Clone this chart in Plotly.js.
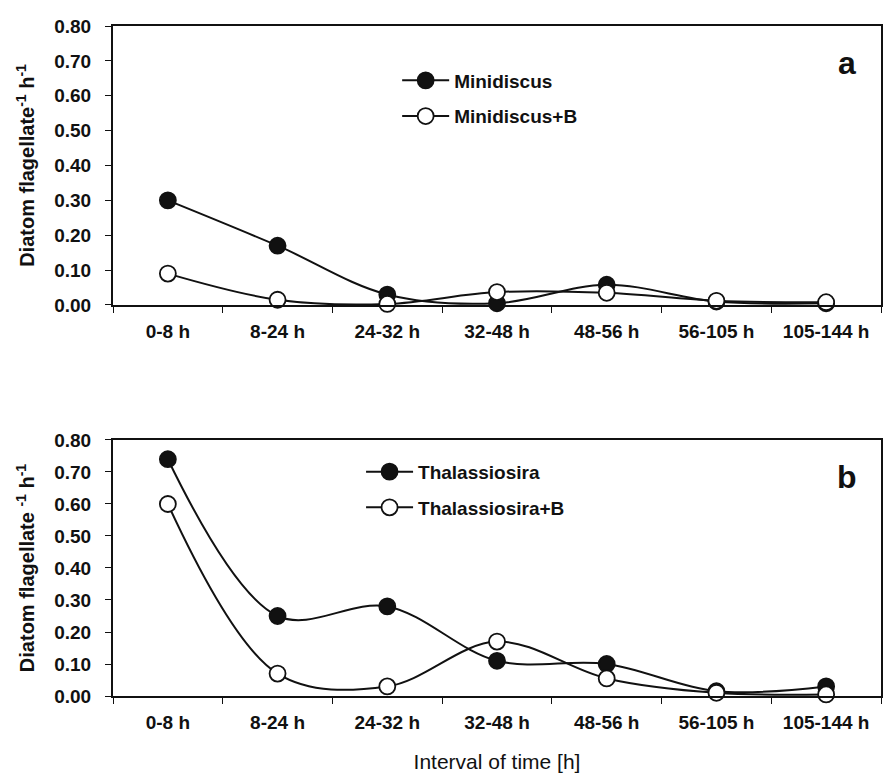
<!DOCTYPE html>
<html>
<head>
<meta charset="utf-8">
<script src="https://cdn.plot.ly/plotly-3.0.1.min.js"></script>
<style>
  html, body { margin: 0; padding: 0; background: #fff; }
  #chart { width: 883px; height: 776px; }
</style>
</head>
<body>
<div id="chart"></div>
<script>
// Categories (time intervals)
const intervals = ["0-8 h", "8-24 h", "24-32 h", "32-48 h", "48-56 h", "56-105 h", "105-144 h"];

// Panel a
const minidiscus  = [0.30, 0.17, 0.03, 0.005, 0.058, 0.01, 0.005];
const minidiscusB = [0.09, 0.015, 0.003, 0.037, 0.035, 0.012, 0.008];

// Panel b
const thalassiosira  = [0.74, 0.25, 0.28, 0.11, 0.10, 0.015, 0.03];
const thalassiosiraB = [0.60, 0.07, 0.03, 0.17, 0.055, 0.01, 0.005];

const yTicks = [0, 0.1, 0.2, 0.3, 0.4, 0.5, 0.6, 0.7, 0.8];

const FONT = "Liberation Sans, Arial, sans-serif";
const INK = "#111";

function series(name, y, filled, xa, ya, legend) {
  return {
    type: "scatter", mode: "lines+markers", name: name,
    x: intervals, y: y, xaxis: xa, yaxis: ya, legend: legend,
    legendgroup: name,
    cliponaxis: false,
    line: { color: INK, width: 2, shape: "spline", smoothing: 1 },
    marker: { size: 16, symbol: "circle", color: filled ? INK : "#fff",
              line: { color: INK, width: 1.8 } }
  };
}

const data = [
  series("<b>Minidiscus</b>", minidiscus, true, "x", "y", "legend"),
  series("<b>Minidiscus+B</b>", minidiscusB, false, "x", "y", "legend"),
  series("<b>Thalassiosira</b>", thalassiosira, true, "x2", "y2", "legend2"),
  series("<b>Thalassiosira+B</b>", thalassiosiraB, false, "x2", "y2", "legend2")
];

function xAxis(anchor, withTitle) {
  const ax = {
    anchor: anchor, type: "category", range: [-0.5, 6.5],
    showgrid: false, zeroline: false,
    showline: true, linecolor: INK, linewidth: 2, mirror: true,
    ticks: "outside", ticklen: 6, tickwidth: 1, tickcolor: INK,
    tickson: "boundaries", ticklabelstandoff: 8,
    tickfont: { family: FONT, size: 19, color: INK, weight: "bold" }
  };
  if (withTitle) ax.title = { text: "Interval of time [h]", standoff: 23,
                              font: { family: FONT, size: 21, color: INK } };
  return ax;
}
function yAxis(anchor, domain, titleText) {
  return {
    anchor: anchor, domain: domain, range: [0, 0.8],
    tickvals: yTicks, tickformat: ".2f",
    showgrid: false, zeroline: false,
    showline: true, linecolor: INK, linewidth: 2, mirror: true,
    ticks: "outside", ticklen: 6, tickwidth: 1, tickcolor: INK,
    ticklabelstandoff: 10,
    tickfont: { family: FONT, size: 19, color: INK, weight: "bold" },
    title: { text: titleText, standoff: 14,
             font: { family: FONT, size: 20, color: INK, weight: "bold" } }
  };
}

const legendCommon = {
  xanchor: "left", yanchor: "top", bgcolor: "rgba(0,0,0,0)",
  font: { family: FONT, size: 19, color: INK },
  itemwidth: 47, traceorder: "grouped", tracegroupgap: 8
};

const layout = {
  width: 883, height: 776,
  margin: { l: 113, r: 2, t: 26, b: 80 },
  paper_bgcolor: "#fff", plot_bgcolor: "#fff",
  font: { family: FONT, color: INK },
  xaxis: xAxis("y", false),
  yaxis: yAxis("x", [0.5836, 1], "Diatom flagellate<sup>-1</sup> h<sup>-1</sup>"),
  xaxis2: xAxis("y2", true),
  yaxis2: yAxis("x2", [0, 0.3821], "Diatom flagellate <sup>-1</sup> h<sup>-1</sup>"),
  legend: Object.assign({}, legendCommon, { x: 0.37, y: 0.947 }),
  legend2: Object.assign({}, legendCommon, { x: 0.323, y: 0.363 }),
  annotations: [
    { text: "<b>a</b>", xref: "x domain", yref: "y domain", x: 0.956, y: 0.867,
      xanchor: "center", yanchor: "middle",
      showarrow: false, font: { family: FONT, size: 32, color: INK } },
    { text: "<b>b</b>", xref: "x2 domain", yref: "y2 domain", x: 0.956, y: 0.855,
      xanchor: "center", yanchor: "middle",
      showarrow: false, font: { family: FONT, size: 32, color: INK } }
  ],
  showlegend: true
};

Plotly.newPlot("chart", data, layout, { displayModeBar: false, staticPlot: true });
</script>
</body>
</html>
